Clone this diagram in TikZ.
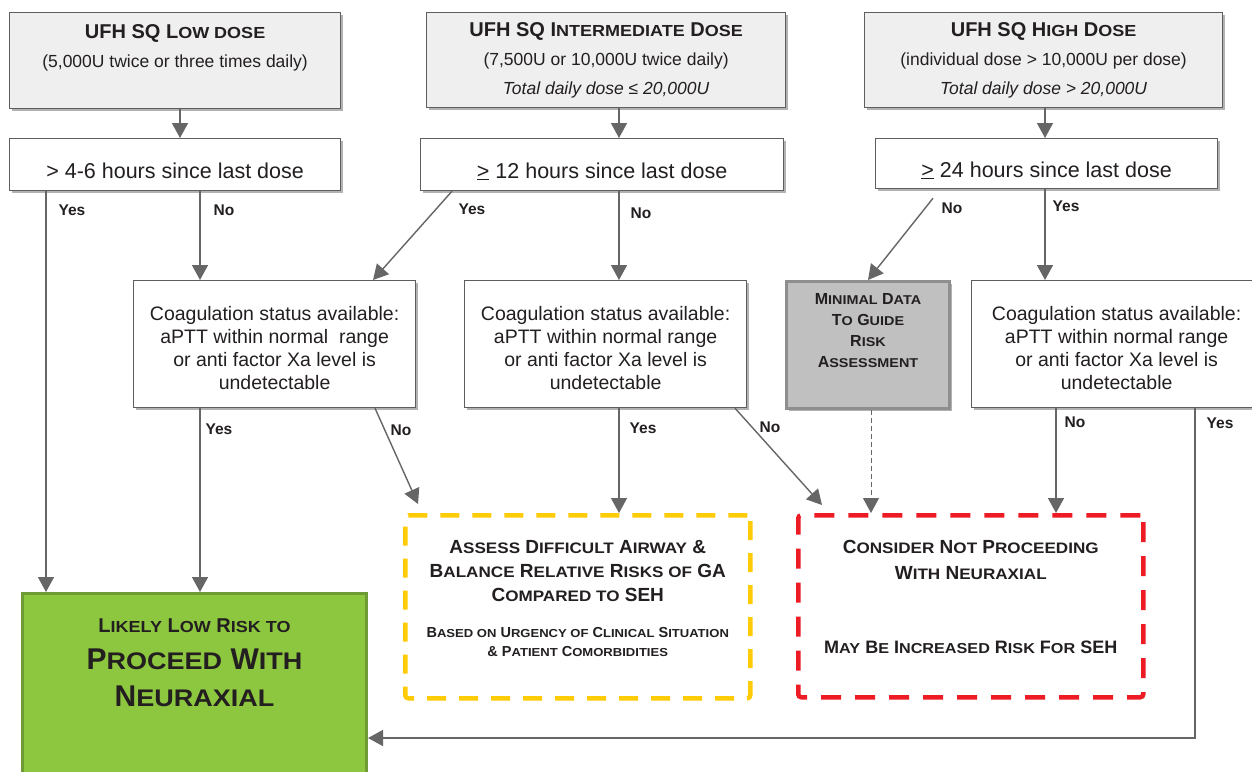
\documentclass[tikz,border=0pt]{standalone}
\usepackage{fontspec}
\setmainfont{Liberation Sans}
\usepackage{graphicx}
\usetikzlibrary{arrows.meta,shadows,calc}
\definecolor{boxgray}{HTML}{EFEFEF}
\definecolor{edgegray}{HTML}{5E5E5E}
\definecolor{linegray}{HTML}{666666}
\definecolor{txt}{HTML}{231F20}
\definecolor{mingray}{HTML}{C0C0C0}
\definecolor{minedge}{HTML}{8E8E8E}
\definecolor{ylw}{HTML}{FFCB05}
\definecolor{rd}{HTML}{ED1C24}
\definecolor{grn}{HTML}{8DC63F}
\definecolor{grnedge}{HTML}{6F9B35}
\newcommand\sm[1]{\scalebox{0.9}[0.8]{#1}}
\begin{document}
\begin{tikzpicture}[x=1pt,y=-1pt,
  shadowed/.style={drop shadow={shadow xshift=2.5pt,shadow yshift=-2.5pt,opacity=0.3,fill=black}},
  topbox/.style={draw=edgegray,line width=1.2pt,fill=boxgray,shadowed,anchor=north west,align=center,text=txt,inner sep=0pt,font=\fontsize{17.5}{29}\selectfont},
  hrbox/.style={draw=edgegray,line width=1.2pt,fill=white,shadowed,anchor=north west,text=txt,inner sep=0pt,text height=27pt,text depth=0pt,font=\fontsize{21.5}{23}\selectfont},
  coag/.style={draw=edgegray,line width=1.2pt,fill=white,shadowed,anchor=north west,align=center,text=txt,inner sep=0pt,text height=91pt,text depth=0pt,font=\fontsize{19.5}{23}\selectfont},
  minbox/.style={draw=minedge,line width=3pt,fill=mingray,shadowed,anchor=north west,inner sep=0pt},
  ybox/.style={draw=ylw,line width=4.5pt,dash pattern=on 19pt off 13pt,rounded corners=3pt,anchor=north west,inner sep=0pt},
  rbox/.style={draw=rd,line width=4.5pt,dash pattern=on 20pt off 14pt,rounded corners=3pt,anchor=north west,inner sep=0pt},
  gbox/.style={draw=grnedge,line width=3pt,fill=grn,anchor=north west,inner sep=0pt},
  boxtext/.style={align=center,text=txt,inner sep=0pt,anchor=north},
  lab/.style={font=\bfseries\fontsize{15.5}{15.5}\selectfont,text=txt,inner sep=0pt},
  arr/.style={draw=linegray,line width=1.4pt,-{Triangle[width=16pt,length=15pt]}},
  darr/.style={draw=linegray,line width=1pt,dash pattern=on 5pt off 3pt,-{Triangle[width=16pt,length=15pt]}}
]
\useasboundingbox[fill=white] (0,0) rectangle (1252,771);

% top boxes
\node[topbox,minimum width=331pt,minimum height=96pt] (t1) at (9,12)
  {{\bfseries\fontsize{20}{29}\selectfont UFH SQ L\sm{OW DOSE}}\\(5,000U twice or three times daily)\\~};
\node[topbox,minimum width=359pt,minimum height=95pt] (t2) at (426,12)
  {{\bfseries\fontsize{20}{29}\selectfont UFH SQ I\sm{NTERMEDIATE} D\sm{OSE}}\\(7,500U or 10,000U twice daily)\\{\itshape Total daily dose ≤ 20,000U}};
\node[topbox,minimum width=358pt,minimum height=95pt] (t3) at (864,12)
  {{\bfseries\fontsize{20}{29}\selectfont UFH SQ H\sm{IGH} D\sm{OSE}}\\(individual dose > 10,000U per dose)\\{\itshape Total daily dose > 20,000U}};

% hours boxes
\node[hrbox,minimum width=331pt,minimum height=52pt] (h1) at (9,138) {> 4-6 hours since last dose};
\node[hrbox,minimum width=363pt,minimum height=52pt] (h2) at (420,138) {\underline{>} 12 hours since last dose};
\node[hrbox,minimum width=342pt,minimum height=50pt] (h3) at (875,138) {\underline{>} 24 hours since last dose};

% coagulation boxes
\node[coag,minimum width=282pt,minimum height=127pt] (c1) at (133,280)
  {Coagulation status available:\\aPTT within normal\ \ range\\or anti factor Xa level is\\undetectable};
\node[coag,minimum width=282pt,minimum height=127pt] (c2) at (464,280)
  {Coagulation status available:\\aPTT within normal range\\or anti factor Xa level is\\undetectable};
\node[minbox,minimum width=163pt,minimum height=127pt] (m) at (785,280) {};
\node[boxtext,font=\bfseries\fontsize{16}{21}\selectfont] (mt) at ([yshift=-13pt]m.north)
  {M\sm{INIMAL} D\sm{ATA}\\T\sm{O} G\sm{UIDE}\\R\sm{ISK}\\A\sm{SSESSMENT}};
\node[coag,minimum width=290pt,minimum height=127pt] (c4) at (971,280)
  {Coagulation status available:\\aPTT within normal range\\or anti factor Xa level is\\undetectable};

% outcome boxes
\node[ybox,minimum width=345pt,minimum height=183pt] (yb) at (403,513) {};
\node[boxtext,font=\bfseries\fontsize{19}{24}\selectfont] (yt) at ([yshift=-27pt]yb.north)
  {A\sm{SSESS} D\sm{IFFICULT} A\sm{IRWAY} \&\\B\sm{ALANCE} R\sm{ELATIVE} R\sm{ISKS OF} GA\\C\sm{OMPARED TO} SEH};
\node[boxtext,font=\bfseries\fontsize{14.5}{19}\selectfont] (yt2) at ([yshift=-114pt]yb.north)
  {B\sm{ASED ON} U\sm{RGENCY OF} C\sm{LINICAL} S\sm{ITUATION}\\\& P\sm{ATIENT} C\sm{OMORBIDITIES}};

\node[rbox,minimum width=345pt,minimum height=182pt] (rb) at (796,513) {};
\node[boxtext,font=\bfseries\fontsize{19}{26}\selectfont] (rt) at ([yshift=-27pt]rb.north)
  {C\sm{ONSIDER} N\sm{OT} P\sm{ROCEEDING}\\W\sm{ITH} N\sm{EURAXIAL}};
\node[boxtext,font=\bfseries\fontsize{18}{26}\selectfont] (rt2) at ([yshift=-128pt]rb.north)
  {M\sm{AY} B\sm{E} I\sm{NCREASED} R\sm{ISK} F\sm{OR} SEH};

\node[gbox,minimum width=344pt,minimum height=200pt] (g) at (21,592) {};
\node[boxtext,font=\bfseries\fontsize{30}{37}\selectfont] (gt) at ([yshift=-27pt]g.north)
  {{\fontsize{20}{37}\selectfont L\sm{IKELY} L\sm{OW} R\sm{ISK TO}}\\
   P\sm{ROCEED} W\sm{ITH}\\
   N\sm{EURAXIAL}};

% arrows top -> hours
\draw[arr] ([xshift=171pt]t1.south west) -- ([xshift=171pt]t1.south west |- h1.north);
\draw[arr] ([xshift=193pt]t2.south west) -- ([xshift=193pt]t2.south west |- h2.north);
\draw[arr] ([xshift=181pt]t3.south west) -- ([xshift=181pt]t3.south west |- h3.north);

% hours -> next
\draw[arr] ([xshift=37pt]h1.south west) -- ([xshift=37pt]h1.south west |- g.north);
\draw[arr] ([xshift=191pt]h1.south west) -- ([xshift=191pt]h1.south west |- c1.north);
\draw[arr] ([xshift=32pt]h2.south west) -- ([xshift=240pt]c1.north west);
\draw[arr] ([xshift=199pt]h2.south west) -- ([xshift=199pt]h2.south west |- c2.north);
\draw[arr] ([xshift=58pt,yshift=-9pt]h3.south west) -- ([xshift=83pt]m.north west);
\draw[arr] ([xshift=170pt]h3.south west) -- ([xshift=170pt]h3.south west |- c4.north);

% coag -> outcomes
\draw[arr] ([xshift=67pt]c1.south west) -- ([xshift=67pt]c1.south west |- g.north);
\draw[arr] ([xshift=242pt]c1.south west) -- ([xshift=15pt,yshift=9pt]yb.north west);
\draw[arr] ([xshift=155pt]c2.south west) -- ([xshift=155pt]c2.south west |- yb.north);
\draw[arr] ([xshift=271pt]c2.south west) -- ([xshift=26pt,yshift=8pt]rb.north west);
\draw[darr] ([xshift=86pt]m.south west) -- ([xshift=86pt]m.south west |- rb.north);
\draw[arr] ([xshift=85pt]c4.south west) -- ([xshift=85pt]c4.south west |- rb.north);
\coordinate (turn) at (1195,738);
\draw[arr] (turn |- c4.south) -- (turn) -- (turn -| g.east);

% labels
\node[lab] (l1) at (72,210) {Yes};
\node[lab] (l2) at (224,210) {No};
\node[lab] (l3) at (472,209) {Yes};
\node[lab] (l4) at (641,213) {No};
\node[lab] (l5) at (952,208) {No};
\node[lab] (l6) at (1066,206) {Yes};
\node[lab] (l7) at (219,429) {Yes};
\node[lab] (l8) at (401,430) {No};
\node[lab] (l9) at (643,428) {Yes};
\node[lab] (l10) at (770,427) {No};
\node[lab] (l11) at (1075,422) {No};
\node[lab] (l12) at (1220,423) {Yes};
\end{tikzpicture}
\end{document}
